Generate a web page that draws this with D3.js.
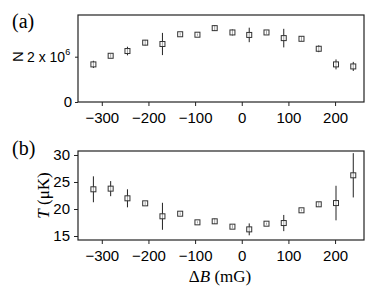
<!DOCTYPE html>
<html>
<head>
<meta charset="UTF-8">
<script src="https://d3js.org/d3.v7.min.js"></script>
<style>
body { margin: 0; background: #fff; }
text { fill: #000; }
</style>
</head>
<body>
<svg width="382" height="288"></svg>
<script>
var dB = [-318, -281, -245, -207, -170, -132, -95, -58, -20, 16, 53, 90, 128, 165, 202, 239];
var atomN = [1.66, 2.04, 2.25, 2.62, 2.56, 2.99, 2.97, 3.26, 3.07, 2.96, 3.07, 2.82, 2.79, 2.35, 1.66, 1.57];
var atomNErr = [0.16, 0.08, 0.19, 0.12, 0.49, 0.06, 0.05, 0.12, 0.13, 0.32, 0.08, 0.41, 0.1, 0.15, 0.22, 0.2];
var temp = [23.65, 23.77, 21.98, 21.05, 18.65, 19.13, 17.53, 17.72, 16.73, 16.23, 17.28, 17.4, 19.76, 20.87, 21.1, 26.24];
var tempErr = [2.4, 1.4, 1.67, 0.3, 2.5, 0.25, 0.2, 0.5, 0.3, 1.1, 0.2, 1.5, 0.2, 0.4, 3.2, 4.1];
var xTicks = [-300, -200, -100, 0, 100, 200];
var tTicks = [15, 20, 25, 30];

var svg = d3.select("svg");
var left = 78, right = 364;
var sans = "Liberation Sans, Arial, sans-serif";
var serif = "Liberation Serif, Times New Roman, serif";

var x = d3.scaleLinear().domain([-351, 262]).range([left, right]);
var yN = d3.scaleLinear().domain([0, 3.84]).range([102, 15]);
var yT = d3.scaleLinear().domain([14.26, 30.74]).range([240, 151]);

function frame(top, bottom) {
	svg.append("rect").attr("x", left).attr("y", top)
		.attr("width", right - left).attr("height", bottom - top)
		.attr("fill", "none").attr("stroke", "#222").attr("stroke-width", 1.2);
}

function xAxis(yPos) {
	var g = svg.append("g").attr("transform", "translate(0," + yPos + ")");
	g.call(d3.axisBottom(x).tickValues(d3.range(-350, 251, 50)).tickSize(3).tickFormat(""));
	g.call(d3.axisBottom(x).tickValues(xTicks).tickSize(4).tickFormat(function (d) { return d < 0 ? "\u2212" + (-d) : d; }));
	g.selectAll(".domain").remove();
	g.selectAll("line").attr("stroke", "#222");
	g.selectAll("text").attr("font-family", sans).attr("font-size", 15).attr("dy", "0.9em").attr("fill", "#000");
}

function points(yScale, vals, errs) {
	var g = svg.append("g");
	g.selectAll("line.err").data(dB).enter().append("line")
		.attr("x1", function (d) { return x(d); }).attr("x2", function (d) { return x(d); })
		.attr("y1", function (d, i) { return yScale(vals[i] - errs[i]); })
		.attr("y2", function (d, i) { return yScale(vals[i] + errs[i]); })
		.attr("stroke", "#222").attr("stroke-width", 1);
	g.selectAll("rect").data(dB).enter().append("rect")
		.attr("x", function (d) { return x(d) - 2.5; })
		.attr("y", function (d, i) { return yScale(vals[i]) - 2.5; })
		.attr("width", 5).attr("height", 5)
		.attr("fill", "#fff").attr("fill-opacity", 0.6).attr("stroke", "#333").attr("stroke-width", 1);
}

// panel (a)
frame(15, 102);
xAxis(102);
var ga = svg.append("g").attr("transform", "translate(" + left + ",0)");
ga.call(d3.axisLeft(yN).tickValues([1, 3]).tickSize(2).tickFormat(""));
ga.call(d3.axisLeft(yN).tickValues([0, 2]).tickSize(3).tickFormat(""));
ga.selectAll(".domain").remove();
ga.selectAll("line").attr("stroke", "#222");
svg.append("text").attr("x", 72).attr("y", yN(0) + 5).attr("text-anchor", "end")
	.attr("font-family", sans).attr("font-size", 15).text("0");
var lab2 = svg.append("text").attr("x", 27).attr("y", yN(2) + 5)
	.attr("font-family", sans).attr("font-size", 14);
lab2.append("tspan").text("2 x 10");
lab2.append("tspan").attr("font-size", 9).attr("dy", -7).text("6");
svg.append("text").attr("transform", "translate(23," + yN(2) + ") rotate(-90)")
	.attr("text-anchor", "middle").attr("font-family", sans)
	.attr("font-size", 15).text("N");
points(yN, atomN, atomNErr);
svg.append("text").attr("x", 12).attr("y", 28).attr("font-family", serif)
	.attr("font-size", 20).text("(a)");

// panel (b)
frame(151, 240);
xAxis(240);
var gb = svg.append("g").attr("transform", "translate(" + left + ",0)");
gb.call(d3.axisLeft(yT).tickValues(d3.range(15, 31, 1)).tickSize(2).tickFormat(""));
gb.call(d3.axisLeft(yT).tickValues(tTicks).tickSize(4).tickFormat(d3.format("d")));
gb.selectAll(".domain").remove();
gb.selectAll("line").attr("stroke", "#222");
gb.selectAll("text").attr("font-family", sans).attr("font-size", 15).attr("fill", "#000").attr("dx", "-1px");
points(yT, temp, tempErr);
svg.append("text").attr("x", 12).attr("y", 155).attr("font-family", serif)
	.attr("font-size", 20).text("(b)");

var tl = svg.append("text").attr("transform", "translate(49," + ((151 + 240) / 2) + ") rotate(-90)")
	.attr("text-anchor", "middle").attr("font-family", serif)
	.attr("font-size", 17).attr("fill", "#444");
tl.append("tspan").attr("font-style", "italic").text("T");
tl.append("tspan").text(" (\u03bcK)");

var xl = svg.append("text").attr("x", (left + right) / 2 - 1).attr("y", 282)
	.attr("text-anchor", "middle").attr("font-family", serif)
	.attr("font-size", 17);
xl.append("tspan").text("\u0394");
xl.append("tspan").attr("font-style", "italic").text("B");
xl.append("tspan").text(" (mG)");
</script>
</body>
</html>
